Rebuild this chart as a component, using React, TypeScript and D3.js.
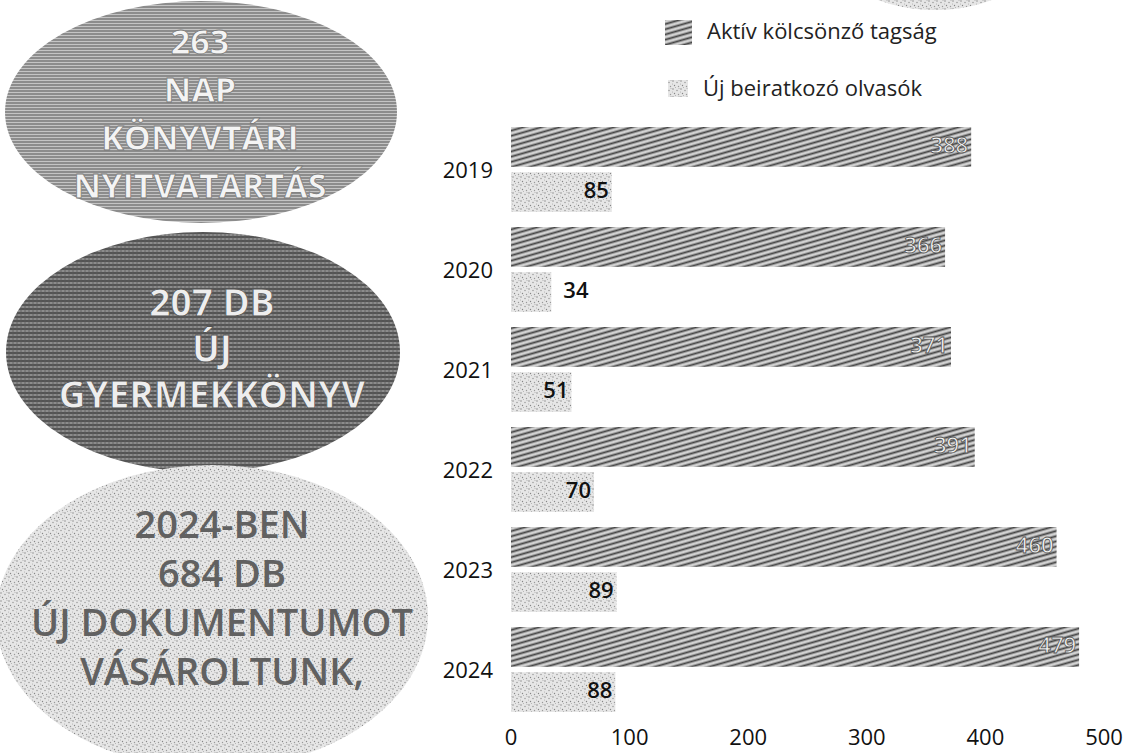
import React from "react";
import * as d3 from "d3";

const years = ["2019", "2020", "2021", "2022", "2023", "2024"];
const activeMembers = [388, 366, 371, 391, 460, 479];
const newReaders = [85, 34, 51, 70, 89, 88];
const seriesNames = ["Aktív kölcsönző tagság", "Új beiratkozó olvasók"];
const xTicks = [0, 100, 200, 300, 400, 500];
const bubble1 = ["263", "NAP", "KÖNYVTÁRI", "NYITVATARTÁS"];
const bubble2 = ["207 DB", "ÚJ", "GYERMEKKÖNYV"];
const bubble3 = ["2024-BEN", "684 DB", "ÚJ DOKUMENTUMOT", "VÁSÁROLTUNK,"];

const W = 1128;
const H = 753;
const FONT = "'Open Sans', 'Noto Sans', sans-serif";

export default function App() {
  const x = d3.scaleLinear().domain([0, 500]).range([511, 1104]);
  const y = d3.scaleBand<string>().domain(years).range([122, 722]);
  const sub = d3
    .scaleBand<string>()
    .domain(["a", "n"])
    .range([5, 90])
    .paddingInner(0.12);

  return (
    <svg
      width={W}
      height={H}
      style={{ position: "absolute", left: 0, top: 0, background: "#fff" }}
      fontFamily={FONT}
    >
      <defs>
        <pattern id="hatch" width="5" height="5" patternUnits="userSpaceOnUse" patternTransform="rotate(-16)">
          <rect width="5" height="5" fill="#d2d2d2" />
          <line x1="0" y1="1.5" x2="5" y2="1.5" stroke="#444" strokeWidth="1.9" />
        </pattern>
        <pattern id="stipple" width="8" height="8" patternUnits="userSpaceOnUse">
          <rect width="8" height="8" fill="#e6e6e6" />
          <circle cx="1" cy="1" r="0.7" fill="#808080" />
          <circle cx="5" cy="2.5" r="0.7" fill="#909090" />
          <circle cx="2.5" cy="5.5" r="0.7" fill="#858585" />
          <circle cx="6.5" cy="6.5" r="0.7" fill="#9a9a9a" />
          <circle cx="7" cy="0.5" r="0.5" fill="#a8a8a8" />
          <circle cx="3.5" cy="7.5" r="0.5" fill="#a8a8a8" />
          <circle cx="0.5" cy="4" r="0.5" fill="#a8a8a8" />
        </pattern>
        <pattern id="hlines" width="4" height="3" patternUnits="userSpaceOnUse">
          <rect width="4" height="3" fill="#c4c4c4" />
          <line x1="0" y1="1" x2="4" y2="1" stroke="#6e6e6e" strokeWidth="1.3" />
        </pattern>
        <pattern id="grid" width="4" height="4" patternUnits="userSpaceOnUse">
          <rect width="4" height="4" fill="#8c8c8c" />
          <line x1="0" y1="1" x2="4" y2="1" stroke="#3c3c3c" strokeWidth="1.4" />
          <line x1="1" y1="0" x2="1" y2="4" stroke="#5a5a5a" strokeWidth="0.8" />
        </pattern>
      </defs>

      {/* decorative bubbles */}
      <ellipse cx={935} cy={-60} rx={110} ry={70} fill="url(#stipple)" />
      <ellipse cx={201} cy={112} rx={196} ry={111} fill="url(#hlines)" />
      <ellipse cx={203} cy={352} rx={197} ry={120} fill="url(#grid)" />
      <ellipse cx={212} cy={617} rx={216} ry={152} fill="url(#stipple)" />

      {bubble1.map((t, i) => (
        <text
          key={t}
          x={200}
          y={54 + i * 48}
          textAnchor="middle"
          fontSize={34}
          fontWeight={700}
          fill="#f4f4f4"
          stroke="#7a7a7a"
          strokeWidth={0.8}
        >
          {t}
        </text>
      ))}
      {bubble2.map((t, i) => (
        <text
          key={t}
          x={212}
          y={316 + i * 46}
          textAnchor="middle"
          fontSize={37}
          fontWeight={700}
          fill="#eeeeee"
          stroke="#555"
          strokeWidth={0.8}
        >
          {t}
        </text>
      ))}
      {bubble3.map((t, i) => (
        <text
          key={t}
          x={222}
          y={538 + i * 49}
          textAnchor="middle"
          fontSize={38}
          fontWeight={600}
          fill="#616161"
        >
          {t}
        </text>
      ))}

      {/* legend */}
      <rect x={665} y={20} width={27} height={25} fill="url(#hatch)" />
      <text x={707} y={33} dominantBaseline="middle" fontSize={22} fill="#222">
        {seriesNames[0]}
      </text>
      <rect x={668} y={80} width={20} height={17} fill="url(#stipple)" />
      <text x={703} y={90} dominantBaseline="middle" fontSize={22} fill="#222">
        {seriesNames[1]}
      </text>

      {/* bars */}
      {years.map((yr, i) => {
        const y0 = y(yr)!;
        const ya = y0 + sub("a")!;
        const yn = y0 + sub("n")!;
        const bw = sub.bandwidth();
        const a = activeMembers[i];
        const n = newReaders[i];
        const nInside = n >= 45;
        return (
          <g key={yr}>
            <rect x={x(0)} y={ya} width={x(a) - x(0)} height={bw} fill="url(#hatch)" />
            <rect x={x(0)} y={yn} width={x(n) - x(0)} height={bw} fill="url(#stipple)" />
            <text
              x={x(a) - 3}
              y={ya + bw / 2}
              textAnchor="end"
              dominantBaseline="middle"
              fontSize={22}
              fontWeight={600}
              fill="#f2f2f2"
              stroke="#555"
              strokeWidth={0.8}
            >
              {a}
            </text>
            <text
              x={nInside ? x(n) - 3 : x(n) + 12}
              y={yn + bw / 2}
              textAnchor={nInside ? "end" : "start"}
              dominantBaseline="middle"
              fontSize={22}
              fontWeight={600}
              fill="#111"
            >
              {n}
            </text>
            <text
              x={493}
              y={y0 + 50}
              textAnchor="end"
              dominantBaseline="middle"
              fontSize={22}
              fill="#111"
            >
              {yr}
            </text>
          </g>
        );
      })}

      {/* x axis tick labels */}
      {xTicks.map((t) => (
        <text
          key={t}
          x={x(t)}
          y={739}
          textAnchor="middle"
          dominantBaseline="middle"
          fontSize={22}
          fill="#111"
        >
          {t}
        </text>
      ))}
    </svg>
  );
}
